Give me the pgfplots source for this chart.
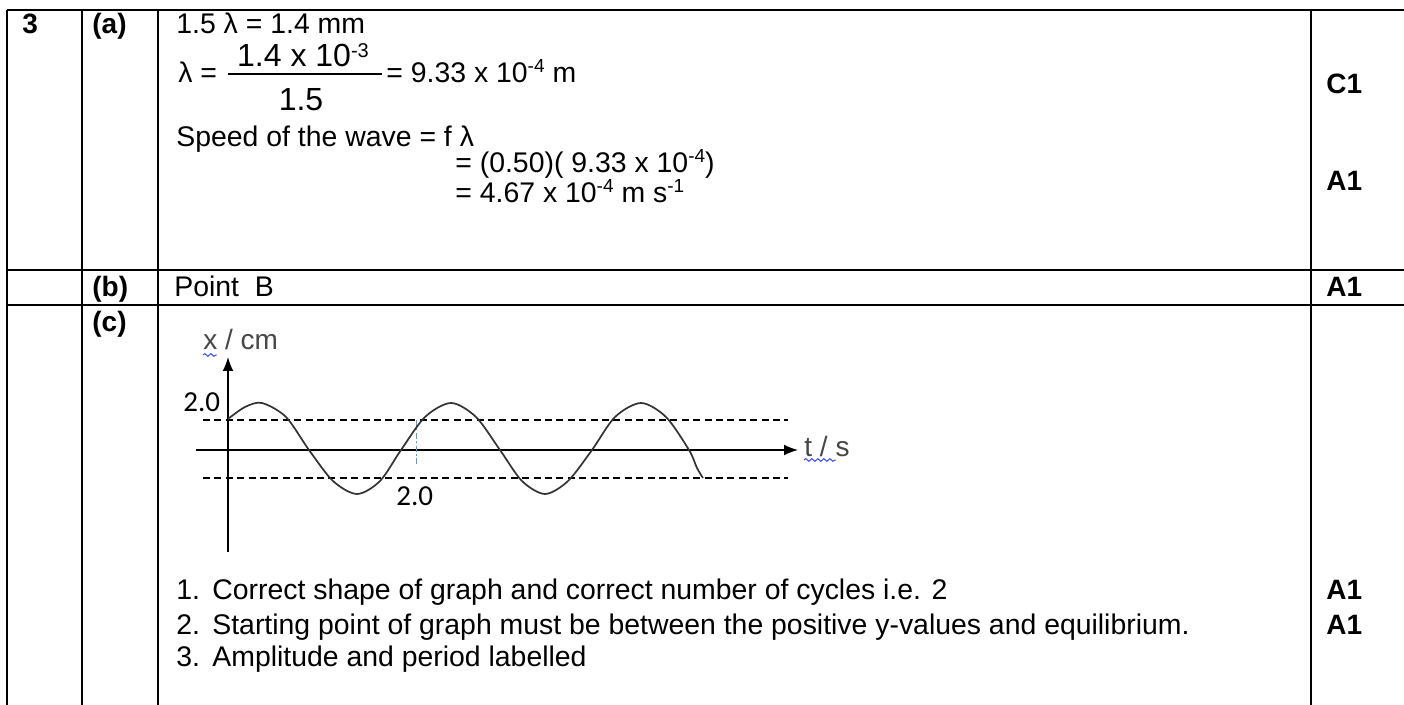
\documentclass[border=0pt]{standalone}
\usepackage{fontspec}
\setmainfont{Liberation Sans}
\newfontfamily\calibri{Carlito}
\usepackage{pgfplots}
\pgfplotsset{compat=1.18}
\usetikzlibrary{arrows.meta,decorations.pathmorphing}
\newcommand\sups[1]{\raisebox{0.38em}{\fontsize{9.5}{9.5}\selectfont #1}}
\newcommand\supb[1]{\raisebox{0.30em}{\fontsize{10}{10}\selectfont #1}}
\definecolor{spell}{RGB}{40,60,235}
\definecolor{lblue}{RGB}{91,155,213}
\tikzset{
  txt/.style={anchor=base west, inner sep=0pt, font=\fontsize{14.2}{16}\selectfont},
  bld/.style={anchor=base west, inner sep=0pt, font=\fontsize{14}{16}\selectfont\bfseries},
  big/.style={anchor=base, inner sep=0pt, font=\fontsize{16}{18}\selectfont},
  gtx/.style={anchor=base west, inner sep=0pt, font=\fontsize{14}{16}\selectfont, text=black!72},
  cal/.style={anchor=base west, inner sep=0pt, font=\fontsize{14.5}{16}\selectfont\calibri},
}
\begin{document}
\begin{tikzpicture}
\begin{axis}[name=A, width=702pt, height=352.5pt, scale only axis,
  xmin=0, xmax=1404, ymin=0, ymax=705, y dir=reverse, hide axis, clip=false]
% table rules
\draw[line width=1pt] (7,10) -- (1404,10);
\draw[line width=1pt] (7,10) -- (7,705);
\draw[line width=1pt] (82,10) -- (82,705);
\draw[line width=1pt] (158,10) -- (158,705);
\draw[line width=1pt] (1311,10) -- (1311,705);
\draw[line width=1pt] (7,270) -- (1404,270);
\draw[line width=1pt] (7,305) -- (1404,305);
% row (a)
\node[bld] at (22,34) {3};
\node[bld] at (92,34) {(a)};
\node[txt] at (176,34) {1.5 λ = 1.4 mm};
\node[txt] at (178,83) {λ =};
\node[big] at (303,67) {1.4 x 10\supb{-3}};
\draw[line width=0.7pt] (228,74) -- (382,74);
\node[big] at (301,111) {1.5};
\node[txt] at (386,83) {= 9.33 x 10\sups{-4} m};
\node[txt] at (176,147) {Speed of the wave = f λ};
\node[txt] at (455,173) {= (0.50)( 9.33 x 10\sups{-4})};
\node[txt] at (455,203) {= 4.67 x 10\sups{-4} m s\sups{-1}};
\node[bld] at (1326,94) {C1};
\node[bld] at (1326,191) {A1};
% row (b)
\node[bld] at (92,297) {(b)};
\node[txt] at (174,297) {Point~~B};
\node[bld] at (1326,297) {A1};
% row (c)
\node[bld] at (92,332) {(c)};
% graph
\draw[line width=0.7pt, dash pattern=on 3.5pt off 2.2pt] (203,420) -- (788,420);
\draw[line width=0.7pt, dash pattern=on 3.5pt off 2.2pt] (203,478) -- (788,478);
\draw[line width=0.8pt, -{Latex[length=7pt,width=5.5pt]}] (196,450) -- (798,450);
\draw[line width=0.8pt, -{Latex[length=7pt,width=5.5pt]}] (228,552) -- (228,357);
\draw[lblue, line width=0.4pt, dash pattern=on 3pt off 1.2pt on 1pt off 1.2pt] (416,420) -- (416,466);
\addplot[smooth, line width=0.85pt, color=black!80] coordinates {
(228,419) (245,407) (262,403) (286,417) (309,450) (333,481) (357,494) (380,481)
(401,450) (425,417) (451,403) (476,417) (500,450) (522,481) (545,494) (568,481)
(592,450) (615,417) (641,403) (666,417) (689,450) (697,468) (703,478)
};
\node[gtx] at (203,350) {x / cm};
\draw[spell, line width=0.45pt, decorate, decoration={snake, amplitude=0.7pt, segment length=3pt}] (203,355) -- (217,355);
\node[gtx] at (804,457) {t / s};
\draw[spell, line width=0.45pt, decorate, decoration={snake, amplitude=0.7pt, segment length=3pt}] (804,460) -- (836,460);
\node[cal] at (183,412) {2.0};
\node[cal] at (396,506) {2.0};
% criteria
\node[txt] at (176,600) {1.};
\node[txt] at (212,600) {Correct shape of graph and correct number of cycles i.e. 2};
\node[txt] at (176,634) {2.};
\node[txt] at (212,634) {Starting point of graph must be between the positive y-values and equilibrium.};
\node[txt] at (176,667) {3.};
\node[txt] at (212,667) {Amplitude and period labelled};
\node[bld] at (1326,600) {A1};
\node[bld] at (1326,634) {A1};
\end{axis}
\pgfresetboundingbox
\path[use as bounding box] (A.south west) rectangle (A.north east);
\end{tikzpicture}
\end{document}
